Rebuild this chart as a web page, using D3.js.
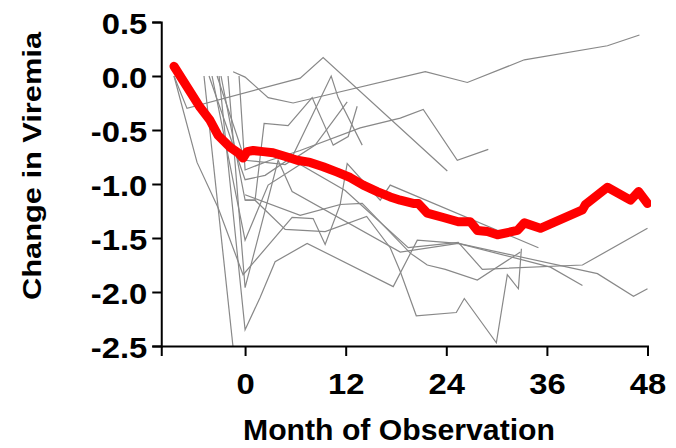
<!DOCTYPE html>
<html><head><meta charset="utf-8">
<script src="https://cdn.jsdelivr.net/npm/d3@7"></script>
<style>body{margin:0;background:#fff}</style>
</head><body><svg id="c" width="676" height="448"></svg>
<script>
const xTicks = [0, 12, 24, 36, 48];
const yTicks = [0.5, 0, -0.5, -1, -1.5, -2, -2.5];
const yTickLabels = ["0.5", "0.0", "-0.5", "-1.0", "-1.5", "-2.0", "-2.5"];
const xTitle = "Month of Observation";
const yTitle = "Change in Viremia";

const meanMonths = [-8.48,-5.37,-4.18,-3.22,-1.79,-0.84,-0.24,0.24,0.96,2.15,3.34,5.01,6.21,7.76,9.31,10.99,12.54,14.09,15.76,17.31,18.51,20.06,20.66,21.73,23.64,25.43,26.87,27.70,28.90,30.09,32.48,33.31,35.22,40.24,40.60,43.22,45.97,46.93,48.0];
const meanValues = [0.09,-0.29,-0.41,-0.55,-0.66,-0.71,-0.76,-0.70,-0.69,-0.70,-0.71,-0.75,-0.78,-0.80,-0.84,-0.89,-0.94,-1.01,-1.07,-1.12,-1.15,-1.18,-1.18,-1.27,-1.31,-1.35,-1.35,-1.43,-1.44,-1.47,-1.43,-1.36,-1.41,-1.24,-1.19,-1.03,-1.15,-1.07,-1.18];

const p1Months = [-8.48,-6.93,6.57,9.31,24.12];
const p1Values = [0,-0.30,-0.02,0.17,-0.88];
const p2Months = [-1.43,0,2.75,5.73,21.49,26.51,33.31,43.22,47.04];
const p2Values = [0.04,-0.01,-0.20,-0.25,0.04,-0.06,0.15,0.28,0.38];
const p3Months = [-0.72,0,2.99,6.57,13.73,18.51,21.25,25.31,29.01];
const p3Values = [0,-0.87,-0.78,-0.69,-0.48,-0.39,-0.31,-0.78,-0.68];
const p4Months = [-4.30,0,2.39,5.61,10.27,11.10,13.97];
const p4Values = [0,-0.96,-0.92,-0.75,0,-0.20,-0.64];
const p5Months = [-2.87,0,1.19,2.27,5.13,8.00,10.51,12.30,13.37];
const p5Values = [0,-1.15,-1.15,-0.44,-0.46,-0.20,-0.64,-0.56,-0.28];
const p6Months = [-3.34,0,4.78,8.36,12.18];
const p6Values = [0,-0.78,-0.82,-0.64,-0.24];
const p7Months = [-8.48,-5.73,-3.22,-0.24,5.61,8.12,9.55,11.34,13.97,19.70,21.73,23.88,27.70,32.84];
const p7Values = [0,-0.80,-1.22,-1.84,-1.31,-1.32,-1.56,-1.19,-1.18,-1.64,-1.75,-1.79,-1.89,-1.63];
const p8Months = [-3.10,0,1.79,3.58,7.40,17.67,20.54,25.43,42.03,46.33,48];
const p8Values = [0,-2.35,-2.05,-1.72,-1.55,-1.95,-1.52,-1.55,-1.83,-2.04,-1.97];
const p9Months = [-4.90,-1.45];
const p9Values = [0,-2.50];
const p10Months = [-2.03,0,3.94,5.61,18.51,25.43,36.42,40.24];
const p10Values = [0,-1.96,-0.78,-1.07,-1.63,-1.55,-1.77,-1.94];
const p11Months = [-3.94,0,2.75,6.57,11.94,19.46,25.43,28.30,40.24,48];
const p11Values = [0,-1.52,-1.01,-0.82,-1.06,-1.59,-1.54,-1.79,-1.75,-1.41];
const p12Months = [0,6.57,11.34,12.18,16.12,17.31,34.99];
const p12Values = [-1.10,-1.29,-1.19,-0.81,-1.15,-1.01,-1.59];
const p13Months = [0,1.19,4.78,9.55,14.5,17.31,18.51,20.42,25.19,26.15,29.97,31.28,32.60,32.96];
const p13Values = [-1.15,-1.15,-1.42,-1.44,-1.30,-1.59,-1.81,-2.22,-2.19,-2.06,-2.47,-1.84,-1.97,-1.60];

const patients = [
  [p1Months,p1Values],[p2Months,p2Values],[p3Months,p3Values],[p4Months,p4Values],
  [p5Months,p5Values],[p6Months,p6Values],[p7Months,p7Values],[p8Months,p8Values],
  [p9Months,p9Values],[p10Months,p10Values],[p11Months,p11Values],[p12Months,p12Values],
  [p13Months,p13Values]
].map(([m,v]) => m.map((d,i) => ({m:d, v:v[i]})));
const mean = meanMonths.map((d,i) => ({m:d, v:meanValues[i]}));

const svg = d3.select("#c");
const x = d3.scaleLinear().domain([-10, 48]).range([161.25, 647.5]);
const y = d3.scaleLinear().domain([-2.5, 0.5]).range([346, 22]);
const FONT = "'Liberation Sans', Arial, Helvetica, sans-serif";

svg.append("clipPath").attr("id","clip").append("rect")
  .attr("x", 161).attr("y", 18).attr("width", 490).attr("height", 329);

const line = d3.line().x(d => x(d.m)).y(d => y(d.v));
const g = svg.append("g").attr("clip-path","url(#clip)");
g.selectAll("path.p").data(patients).join("path")
  .attr("class","p").attr("d", line)
  .attr("fill","none").attr("stroke","#888888").attr("stroke-width",1.2);
g.append("path").datum(mean).attr("d", line)
  .attr("fill","none").attr("stroke","#ff0000").attr("stroke-width",9)
  .attr("stroke-linecap","round").attr("stroke-linejoin","round");

const yAxis = d3.axisLeft(y).tickValues(yTicks).tickSize(9).tickPadding(5)
  .tickFormat((d,i) => yTickLabels[i]);
const gy = svg.append("g").attr("transform","translate(161.25,0)").call(yAxis);
const xAxis = d3.axisBottom(x).tickValues(xTicks).tickSize(10).tickPadding(17)
  .tickFormat(d3.format("d"));
const gx = svg.append("g").attr("transform","translate(0,346)").call(xAxis);

[gx, gy].forEach(a => {
  a.select(".domain").attr("stroke","#000").attr("stroke-width",2);
  a.selectAll(".tick line").attr("stroke","#000").attr("stroke-width",2);
  a.selectAll("text").attr("font-family",FONT).attr("font-weight","bold")
    .attr("font-size",29).attr("fill","#000");
});
gy.selectAll("text").attr("dy","0.40em");
gx.selectAll("text").attr("dy","0.71em");
svg.selectAll(".tick text").each(function(){
  const w = this.getComputedTextLength();
  d3.select(this).attr("textLength", w*1.13).attr("lengthAdjust","spacingAndGlyphs");
});

svg.append("text").attr("x", 399).attr("y", 440).attr("text-anchor","middle")
  .attr("font-family",FONT).attr("font-weight","bold").attr("font-size",29)
  .attr("fill","#000").text(xTitle)
  .attr("textLength", 312).attr("lengthAdjust","spacingAndGlyphs");

svg.append("text").attr("transform","translate(41,166) rotate(-90)").attr("text-anchor","middle")
  .attr("font-family",FONT).attr("font-weight","bold").attr("font-size",26)
  .attr("fill","#000").text(yTitle)
  .attr("textLength", 268).attr("lengthAdjust","spacingAndGlyphs");
</script></body></html>
